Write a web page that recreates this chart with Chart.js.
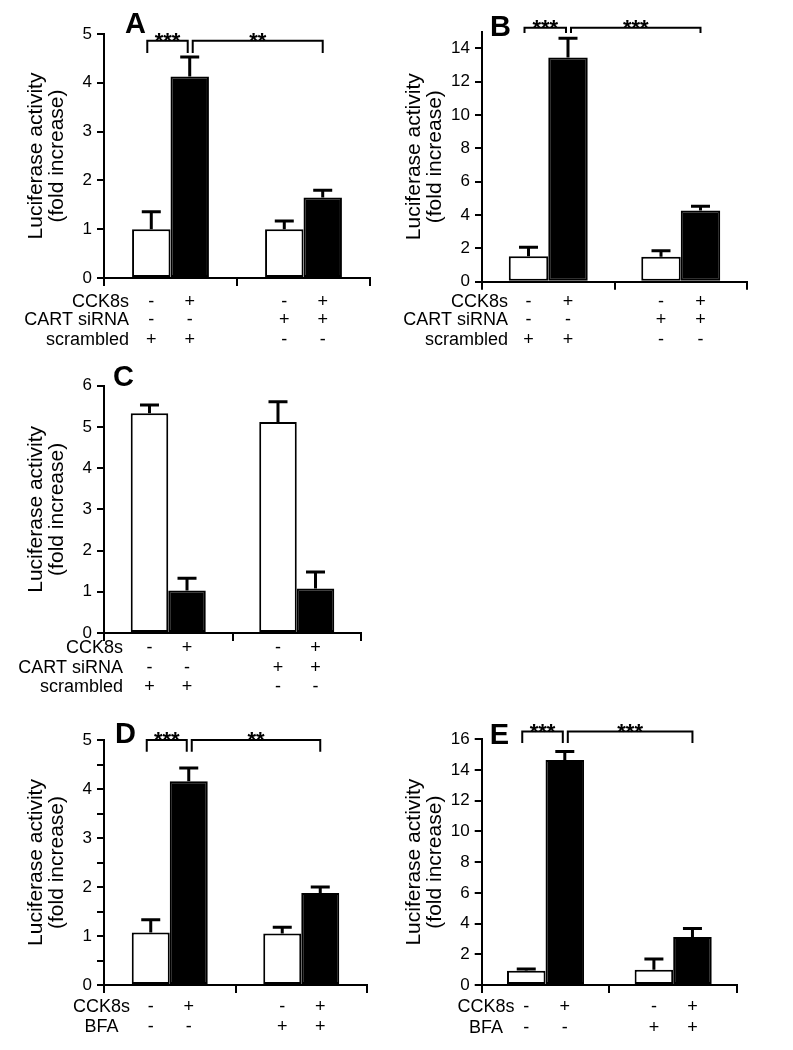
<!DOCTYPE html>
<html>
<head>
<meta charset="utf-8">
<script src="https://cdn.jsdelivr.net/npm/chart.js@4.4.1/dist/chart.umd.min.js"></script>
<style>
body{margin:0;background:#fff;width:793px;height:1050px;position:relative;overflow:hidden}
canvas{position:absolute}
</style>
</head>
<body>
<canvas id="cA"></canvas>
<canvas id="cB"></canvas>
<canvas id="cC"></canvas>
<canvas id="cD"></canvas>
<canvas id="cE"></canvas>
<script>
// values (mean, and the upper error bar length)
let groups=["group 1","group 2"]

let aWhite=[1.00,1.00]
let aWhiteErr=[0.36,0.17]
let aBlack=[4.13,1.65]
let aBlackErr=[0.40,0.15]

let bWhite=[1.52,1.50]
let bWhiteErr=[0.55,0.35]
let bBlack=[13.45,4.27]
let bBlackErr=[1.15,0.25]

let cWhite=[5.33,5.12]
let cWhiteErr=[0.20,0.49]
let cBlack=[1.03,1.08]
let cBlackErr=[0.30,0.40]

let dWhite=[1.07,1.05]
let dWhiteErr=[0.26,0.13]
let dBlack=[4.16,1.88]
let dBlackErr=[0.27,0.12]

let eWhite=[0.93,1.00]
let eWhiteErr=[0.12,0.70]
let eBlack=[14.65,3.13]
let eBlackErr=[0.55,0.55]

// treatment table under the bars
let sirnaRows=["CCK8s","CART siRNA","scrambled"]
let sirnaSigns=[["-","+","-","+"],["-","-","+","+"],["+","+","-","-"]]
let bfaRows=["CCK8s","BFA"]
let bfaSigns=[["-","+","-","+"],["-","-","+","+"]]

// significance: [from bar, to bar, stars]
let aSig=[[0,1,"***"],[1,3,"**"]]
let bSig=[[0,1,"***"],[1,3,"***"]]
let dSig=[[0,1,"***"],[1,3,"**"]]
let eSig=[[0,1,"***"],[1,3,"***"]]

// y axis: max, step
let aAxis=[5,1]
let bAxis=[15,2]
let cAxis=[6,1]
let dAxis=[5,0.5]
let eAxis=[16,2]

let FONT='"Liberation Sans", Arial, sans-serif'
let yTitle=["Luciferase activity","(fold increase)"]

let panels=[
{id:"cA",letter:"A",white:aWhite,whiteErr:aWhiteErr,black:aBlack,blackErr:aBlackErr,axis:aAxis,sig:aSig,sigTop:4.86,sigLeg:4.61,
 rows:sirnaRows,signs:sirnaSigns,box:[0,0,392,352],area:[104,34,370,278],cat:0.578,rowY:[302,320.5,340],rowX:129,rowAlign:"right",letterPos:[21,-1]},
{id:"cB",letter:"B",white:bWhite,whiteErr:bWhiteErr,black:bBlack,blackErr:bBlackErr,axis:bAxis,sig:bSig,sigTop:15.23,sigLeg:14.92,
 rows:sirnaRows,signs:sirnaSigns,box:[392,0,401,352],area:[90,31.7,355,281.7],cat:0.596,rowY:[302,320.5,340],rowX:116,rowAlign:"right",letterPos:[8,4]},
{id:"cC",letter:"C",white:cWhite,whiteErr:cWhiteErr,black:cBlack,blackErr:cBlackErr,axis:cAxis,sig:[],
 rows:sirnaRows,signs:sirnaSigns,box:[0,352,392,346],area:[104,33.7,361,281],cat:0.584,rowY:[296,316,335],rowX:123,rowAlign:"right",letterPos:[9,0]},
{id:"cD",letter:"D",white:dWhite,whiteErr:dWhiteErr,black:dBlack,blackErr:dBlackErr,axis:dAxis,sig:dSig,sigTop:5.0,sigLeg:4.76,
 rows:bfaRows,signs:bfaSigns,box:[0,700,392,350],area:[104,40,367,285],cat:0.578,rowY:[307,327],rowX:101.5,rowAlign:"center",letterPos:[11,3]},
{id:"cE",letter:"E",white:eWhite,whiteErr:eWhiteErr,black:eBlack,blackErr:eBlackErr,axis:eAxis,sig:eSig,sigTop:16.5,sigLeg:15.76,
 rows:bfaRows,signs:bfaSigns,box:[392,700,401,350],area:[89.7,39.3,345,285],cat:0.604,rowY:[307,328],rowX:94,rowAlign:"center",letterPos:[8,4.5]}
]

function extras(p){
return {id:"extras",afterDraw(chart){
let ctx=chart.ctx
let y=chart.scales.y
let m0=chart.getDatasetMeta(0).data
let m1=chart.getDatasetMeta(1).data
let bars=[m0[0],m1[0],m0[1],m1[1]]
let vals=[p.white[0],p.black[0],p.white[1],p.black[1]]
let errs=[p.whiteErr[0],p.blackErr[0],p.whiteErr[1],p.blackErr[1]]
ctx.save()
ctx.strokeStyle="#000"
ctx.fillStyle="#000"
// error bars, upper half only
ctx.lineWidth=3
bars.forEach((b,i)=>{
let top=y.getPixelForValue(vals[i]+errs[i])
ctx.beginPath()
ctx.moveTo(b.x,b.y)
ctx.lineTo(b.x,top)
ctx.moveTo(b.x-9.5,top)
ctx.lineTo(b.x+9.5,top)
ctx.stroke()
})
// brackets
ctx.lineWidth=2
ctx.font="bold 22px "+FONT
ctx.textAlign="center"
ctx.textBaseline="alphabetic"
p.sig.forEach((s,k)=>{
let a=bars[s[0]].x+(k?3:-4)
let c=bars[s[1]].x+(k?0:-2)
let t=y.getPixelForValue(p.sigTop)
let l=y.getPixelForValue(p.sigLeg)
ctx.beginPath()
ctx.moveTo(a,l)
ctx.lineTo(a,t)
ctx.lineTo(c,t)
ctx.lineTo(c,l)
ctx.stroke()
ctx.fillText(s[2],(a+c)/2,t+7)
})
// treatment table
ctx.font="18px "+FONT
ctx.textBaseline="middle"
p.rows.forEach((r,i)=>{
ctx.textAlign=p.rowAlign
ctx.fillText(r,p.rowX,p.rowY[i])
ctx.textAlign="center"
p.signs[i].forEach((sg,j)=>ctx.fillText(sg,bars[j].x,p.rowY[i]))
})
// panel letter
ctx.font="bold 29px "+FONT
ctx.textAlign="left"
ctx.textBaseline="alphabetic"
ctx.fillText(p.letter,chart.chartArea.left+p.letterPos[0],chart.chartArea.top+p.letterPos[1])
ctx.restore()
}}
}

function makeChart(p){
let cv=document.getElementById(p.id)
let [bx,by,bw,bh]=p.box
let [al,at,ar,ab]=p.area
cv.width=bw
cv.height=bh
cv.style.left=bx+"px"
cv.style.top=by+"px"
let [max,step]=p.axis
new Chart(cv,{
type:"bar",
data:{labels:groups,datasets:[
{data:p.white,backgroundColor:"#fff",borderColor:"#000",borderWidth:2,borderSkipped:false,categoryPercentage:p.cat,barPercentage:1},
{data:p.black,backgroundColor:"#000",borderColor:"#000",borderWidth:2,borderSkipped:false,categoryPercentage:p.cat,barPercentage:1}
]},
options:{
responsive:false,
animation:false,
layout:{padding:{left:al-80,top:at,right:bw-ar,bottom:0}},
plugins:{legend:{display:false},tooltip:{enabled:false}},
scales:{
x:{
afterFit:s=>{s.height=bh-ab},
border:{color:"#000",width:2},
grid:{drawOnChartArea:false,color:"#000",lineWidth:2,tickLength:8,offset:true},
ticks:{display:false}
},
y:{
min:0,max:max,
afterFit:s=>{s.width=80},
afterBuildTicks:s=>{
let t=[]
for(let i=0;i*step<=max+1e-9;i++) t.push({value:Math.round(i*step*100)/100})
s.ticks=t
},
border:{color:"#000",width:2},
grid:{drawOnChartArea:false,color:"#000",lineWidth:2,tickLength:7},
ticks:{color:"#000",padding:5,font:{family:FONT,size:17},callback:v=>Math.abs(v-Math.round(v))<1e-6?v:""},
title:{display:true,text:yTitle,color:"#000",font:{family:FONT,size:21,lineHeight:1.0},padding:{top:2,bottom:0}}
}
}
},
plugins:[extras(p)]
})
}

panels.forEach(makeChart)
</script>
</body>
</html>
